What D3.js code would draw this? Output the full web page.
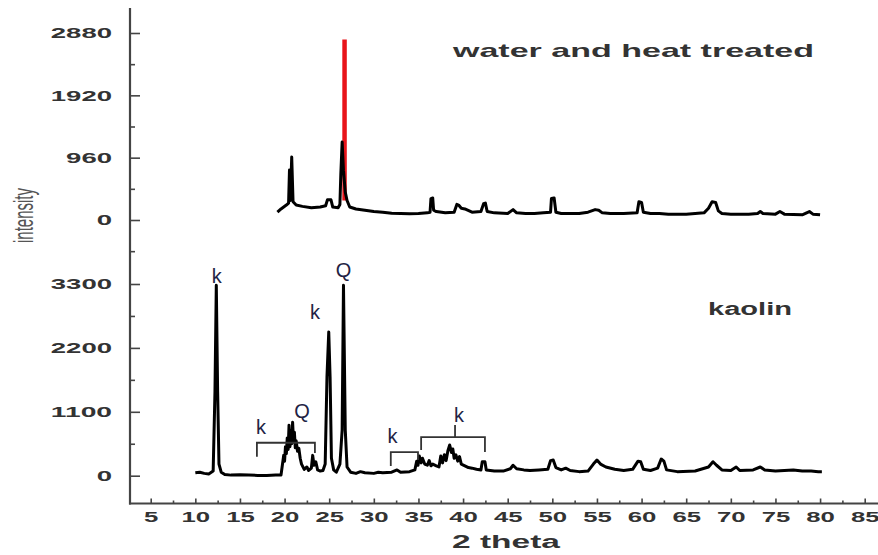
<!DOCTYPE html>
<head>
  <meta charset="utf-8">
  <script src="https://cdn.jsdelivr.net/npm/d3@7"></script>
  <style>
    body { margin: 0; background: #fff; }
    text { font-family: "Liberation Sans", Arial, sans-serif; }
  </style>
</head>
<body>
  <script>
    var width = 878, height = 555;

    // tick labels
    var xTicks = [5, 10, 15, 20, 25, 30, 35, 40, 45, 50, 55, 60, 65, 70, 75, 80, 85];
    var topTicks = [0, 960, 1920, 2880];
    var bottomTicks = [0, 1100, 2200, 3300];

    // water and heat treated pattern, [2 theta, intensity]
    var treated = [[19.2,120],[19.6,170],[20.2,230],[20.45,260],[20.55,770],[20.65,300],[20.8,970],[20.95,280],[21.3,230],[22,210],[23,190],
      [24,200],[24.6,220],[24.8,310],[25.2,310],[25.4,200],[26.0,190],[26.2,240],[26.3,700],[26.45,1200],[26.6,760],[26.8,430],[27.0,300],
      [27.3,200],[28,170],[29,150],[30,130],[31,120],[32,105],[33,100],[34,95],[35,100],[36,110],[36.3,120],[36.4,330],[36.6,339],[36.7,150],
      [37,130],[38,110],[39,120],[39.3,240],[39.5,230],[39.8,180],[40.2,170],[41,120],[42,130],[42.3,250],[42.5,260],[42.7,130],[43.5,110],
      [45,100],[45.6,160],[46,110],[47,100],[48,100],[49,110],[49.8,120],[49.9,330],[50.2,340],[50.4,120],[51,100],[52,100],[53,100],[54,120],
      [54.8,160],[55.2,150],[55.6,110],[56.5,100],[58,100],[59.5,110],[59.7,280],[60,270],[60.2,120],[61,100],[62,100],[63,90],[65,90],
      [66,100],[67,110],[67.5,180],[67.9,280],[68.3,270],[68.6,140],[69,100],[70,90],[72,90],[73,100],[73.3,130],[73.6,100],[75,90],
      [75.5,130],[76,90],[78,80],[78.8,130],[79.2,90],[80,80]];
    var treatedRed = [[26.72,300],[26.72,2780]];

    // kaolin pattern, [2 theta, intensity]
    var kaolin = [[10,50],[10.5,60],[11,40],[11.5,30],[12.0,80],[12.2,1440],[12.35,3280],[12.5,1450],[12.65,200],[12.9,60],[13.3,20],
      [14,10],[15,15],[16,10],[17,5],[18,5],[19,10],[19.6,10],[19.75,180],[19.9,350],[20.0,250],[20.1,500],[20.2,380],[20.3,650],
      [20.4,450],[20.5,870],[20.6,500],[20.7,780],[20.8,550],[20.9,920],[21.0,600],[21.1,750],[21.2,480],[21.3,600],[21.45,420],
      [21.6,470],[21.75,300],[21.9,200],[22.2,110],[22.5,150],[22.7,90],[23.0,130],[23.15,350],[23.3,180],[23.5,240],[23.7,100],
      [24.0,80],[24.3,90],[24.55,200],[24.75,1700],[24.95,2475],[25.1,1700],[25.25,300],[25.5,100],[25.8,60],[26.2,200],[26.45,785],
      [26.6,3280],[26.8,785],[27.0,150],[27.4,60],[28,40],[28.5,70],[29,50],[30,40],[30.5,60],[31,50],[32,60],[32.6,100],[33,60],
      [34,70],[34.6,100],[34.8,250],[34.95,180],[35.1,339],[35.3,220],[35.45,300],[35.7,200],[36,180],[36.2,260],[36.4,170],[36.6,200],
      [37,170],[37.3,150],[37.5,340],[37.7,220],[37.9,360],[38.1,260],[38.3,430],[38.5,528],[38.7,400],[38.85,460],[39.0,300],
      [39.2,360],[39.4,250],[39.6,330],[39.8,200],[40.2,170],[40.6,140],[41,130],[41.5,110],[42.0,100],[42.15,240],[42.45,240],
      [42.6,100],[43.5,80],[44.5,80],[45.3,120],[45.6,180],[46.0,120],[46.8,100],[47.5,90],[48.5,100],[49.5,110],[49.8,260],
      [50.1,270],[50.4,140],[51,100],[51.5,130],[52,90],[53,70],[54,80],[54.6,200],[55,270],[55.4,200],[56,150],[57,110],[58,90],[59,110],
      [59.6,250],[59.9,240],[60.2,110],[61,90],[61.8,130],[62.2,287],[62.5,250],[62.8,100],[64,70],[66,80],[67.5,150],[68,240],[68.4,180],
      [69,100],[70,90],[70.6,150],[71,90],[72.5,100],[73.3,150],[73.8,100],[75,80],[76,90],[77,100],[78,80],[79,80],[79.8,70],[80.2,70]];

    // phase labels on the kaolin pattern
    var peakText = ["k", "Q", "k", "k", "Q", "k", "k"];
    var peakTheta = [12.4, 26.6, 23.4, 17.36, 21.95, 32.1, 39.54];
    var peakValue = [3318, 3421, 2694, 717, 992, 562, 928];

    // bracket paths, [2 theta, intensity]
    var brackets = [
      [[16.9,327],[16.9,567],[23.4,567],[23.4,390]],
      [[31.9,167],[31.9,407],[34.95,407],[34.95,270]],
      [[35.3,442],[35.3,665],[42.45,665],[42.45,407]],
      [[39.1,665],[39.1,871]]
    ];

    var svg = d3.select("body").append("svg")
      .attr("width", width)
      .attr("height", height);

    var x = d3.scaleLinear().domain([5, 85]).range([150.7, 864.7]);
    var yTop = d3.scaleLinear().domain([0, 2880]).range([220, 33]);
    var yBot = d3.scaleLinear().domain([0, 3300]).range([475.7, 284]);

    function stretch(sel, per) {
      sel.attr("textLength", function(d) { return String(d).length * per; })
         .attr("lengthAdjust", "spacingAndGlyphs");
    }

    function styleAxis(g) {
      g.select(".domain").remove();
      g.selectAll("line").attr("stroke", "#444").attr("stroke-width", 1.6);
      g.selectAll("text")
        .attr("font-size", 15).attr("font-weight", "bold").attr("fill", "#333")
        .style("font-family", "'Liberation Sans', Arial, sans-serif");
    }

    // axis lines
    svg.append("line").attr("x1", 130).attr("x2", 130).attr("y1", 8).attr("y2", 504.5)
      .attr("stroke", "#444").attr("stroke-width", 2.2);
    svg.append("line").attr("x1", 129).attr("x2", 878).attr("y1", 503.5).attr("y2", 503.5)
      .attr("stroke", "#444").attr("stroke-width", 2.2);

    // y axes
    var gTop = svg.append("g").attr("transform", "translate(130,0)")
      .call(d3.axisLeft(yTop).tickValues(topTicks).tickFormat(d3.format("d")).tickSize(-10).tickPadding(18));
    styleAxis(gTop);
    stretch(gTop.selectAll("text"), 15.3);

    var gTopMinor = svg.append("g").attr("transform", "translate(130,0)")
      .call(d3.axisLeft(yTop).tickValues([-480, 480, 1440, 2400]).tickSize(-5).tickFormat(""));
    styleAxis(gTopMinor);

    var gBot = svg.append("g").attr("transform", "translate(130,0)")
      .call(d3.axisLeft(yBot).tickValues(bottomTicks).tickFormat(d3.format("d")).tickSize(-10).tickPadding(18));
    styleAxis(gBot);
    stretch(gBot.selectAll("text"), 15.3);

    var gBotMinor = svg.append("g").attr("transform", "translate(130,0)")
      .call(d3.axisLeft(yBot).tickValues([550, 1650, 2750]).tickSize(-5).tickFormat(""));
    styleAxis(gBotMinor);

    // x axis
    var gX = svg.append("g").attr("transform", "translate(0,503.5)")
      .call(d3.axisBottom(x).tickValues(xTicks).tickFormat(d3.format("d")).tickSize(-5).tickPadding(8));
    styleAxis(gX);
    stretch(gX.selectAll("text"), 14.3);

    var gXMinor = svg.append("g").attr("transform", "translate(0,503.5)")
      .call(d3.axisBottom(x).tickValues(d3.range(7.5, 85, 5)).tickSize(-3).tickFormat(""));
    styleAxis(gXMinor);

    // axis titles
    svg.append("text")
      .attr("x", 452).attr("y", 548)
      .attr("font-size", 18).attr("font-weight", "bold").attr("fill", "#333")
      .attr("textLength", 108).attr("lengthAdjust", "spacingAndGlyphs")
      .text("2 theta");

    svg.append("text")
      .attr("transform", "translate(33,243) scale(1.9,1) rotate(-90)")
      .attr("font-size", 15).attr("fill", "#555")
      .attr("textLength", 55).attr("lengthAdjust", "spacingAndGlyphs")
      .text("intensity");

    // traces
    var lineTop = d3.line().x(function(d) { return x(d[0]); }).y(function(d) { return yTop(d[1]); });
    var lineBot = d3.line().x(function(d) { return x(d[0]); }).y(function(d) { return yBot(d[1]); });

    svg.append("path").datum(treatedRed)
      .attr("d", lineTop).attr("fill", "none")
      .attr("stroke", "#e8141a").attr("stroke-width", 4.5);

    svg.append("path").datum(treated)
      .attr("d", lineTop).attr("fill", "none")
      .attr("stroke", "#000").attr("stroke-width", 3).attr("stroke-linejoin", "round");

    svg.append("path").datum(kaolin)
      .attr("d", lineBot).attr("fill", "none")
      .attr("stroke", "#000").attr("stroke-width", 3).attr("stroke-linejoin", "round");

    // brackets
    svg.selectAll(".bracket").data(brackets)
      .enter().append("path")
        .attr("class", "bracket")
        .attr("d", lineBot)
        .attr("fill", "none")
        .attr("stroke", "#333").attr("stroke-width", 1.8);

    // phase labels
    svg.selectAll(".peak").data(peakText)
      .enter().append("text")
        .attr("class", "peak")
        .attr("x", function(d, i) { return x(peakTheta[i]); })
        .attr("y", function(d, i) { return yBot(peakValue[i]); })
        .attr("text-anchor", "middle")
        .attr("font-size", 20).attr("fill", "#222244")
        .text(function(d) { return d; });

    // series names
    svg.append("text")
      .attr("x", 453).attr("y", 56.7)
      .attr("font-size", 19).attr("font-weight", "bold").attr("fill", "#333")
      .attr("textLength", 361).attr("lengthAdjust", "spacingAndGlyphs")
      .text("water and heat treated");

    svg.append("text")
      .attr("x", 708).attr("y", 315)
      .attr("font-size", 17.5).attr("font-weight", "bold").attr("fill", "#333")
      .attr("textLength", 84).attr("lengthAdjust", "spacingAndGlyphs")
      .text("kaolin");
  </script>
</body>
